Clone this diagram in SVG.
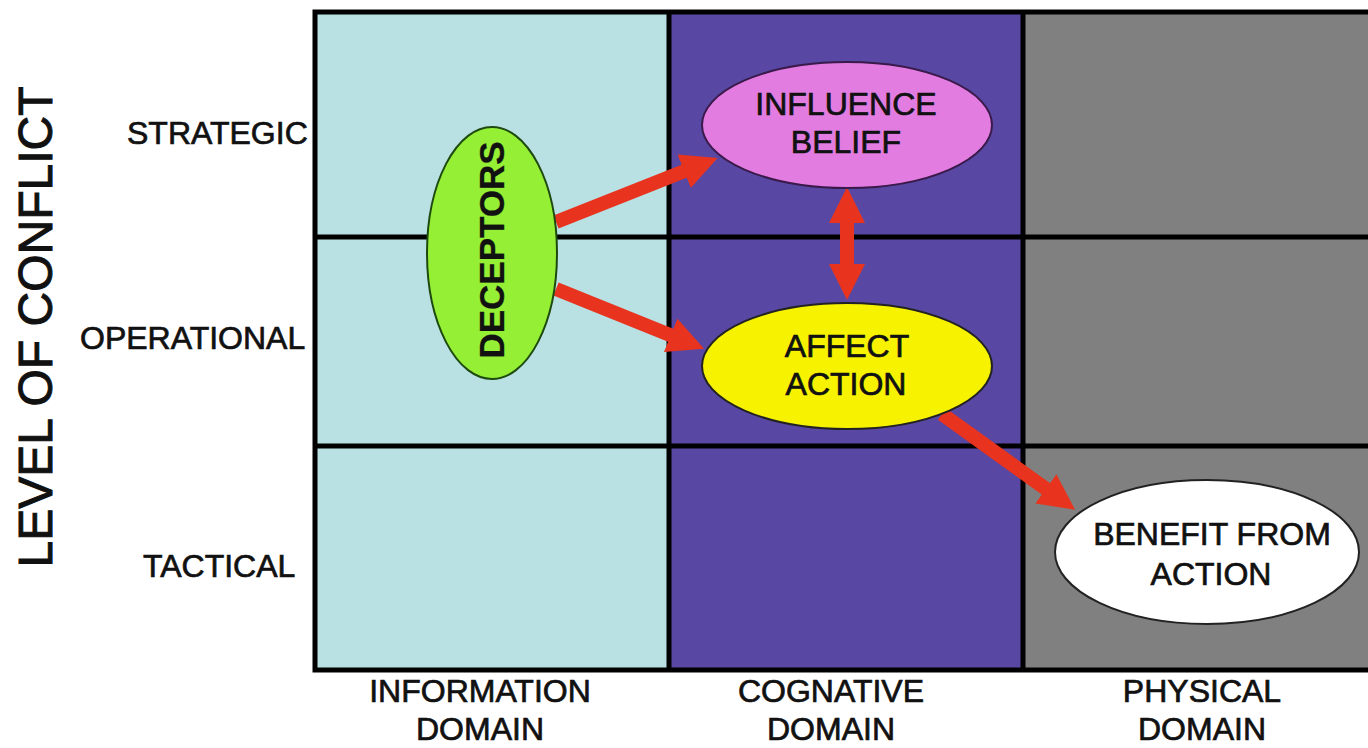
<svg xmlns="http://www.w3.org/2000/svg" width="1368" height="748" viewBox="0 0 1368 748">
<style>
.t{font-family:"Liberation Sans",Arial,sans-serif;font-size:32px;fill:#111;stroke:#111;stroke-width:0.7;text-anchor:middle}
.s{font-family:"Liberation Sans",Arial,sans-serif;font-size:32px;fill:#111;stroke:#111;stroke-width:0.7}
.grid{stroke:#000;stroke-width:5;fill:none}
.arrow{stroke:#e8341f;stroke-width:14;fill:none}
</style>
<defs>
<marker id="ah" markerUnits="userSpaceOnUse" viewBox="0 0 36 36" markerWidth="36" markerHeight="36" refX="2" refY="18" orient="auto-start-reverse">
<path d="M0,0 L36,18 L0,36 z" fill="#e8341f"/>
</marker>
</defs>
<rect x="0" y="0" width="1368" height="748" fill="#fff"/>
<g id="grid">
<rect x="315" y="12" width="354" height="658" fill="#b9e0e3"/>
<rect x="669" y="12" width="354" height="658" fill="#5847a3"/>
<rect x="1023" y="12" width="345" height="658" fill="#808080"/>
<path class="grid" d="M1370,12 H315 V670 H1370 M669,12 V670 M1023,12 V670 M315,237 H1370 M315,446 H1370"/>
</g>
<g id="axis-labels">
<text class="t" style="font-size:48px;stroke-width:1" transform="translate(52,327) rotate(-90)">LEVEL OF CONFLICT</text>
<text class="s" x="127" y="144">STRATEGIC</text>
<text class="s" x="80" y="349">OPERATIONAL</text>
<text class="s" x="143" y="577">TACTICAL</text>
<text class="t" x="480" y="702">INFORMATION</text>
<text class="t" x="480" y="740">DOMAIN</text>
<text class="t" x="831" y="702">COGNATIVE</text>
<text class="t" x="831" y="740">DOMAIN</text>
<text class="t" x="1202" y="702">PHYSICAL</text>
<text class="t" x="1202" y="740">DOMAIN</text>
</g>
<g id="connectors">
<line class="arrow" x1="556" y1="222" x2="686" y2="170.5" marker-end="url(#ah)"/>
<line class="arrow" x1="556" y1="289" x2="672.5" y2="336" marker-end="url(#ah)"/>
<line class="arrow" x1="847" y1="221" x2="847" y2="266" marker-start="url(#ah)" marker-end="url(#ah)"/>
<line class="arrow" x1="942" y1="414" x2="1047.5" y2="490" marker-end="url(#ah)"/>
</g>
<g id="deceptors">
<ellipse cx="492" cy="253" rx="65" ry="126" fill="#95ef35" stroke="#1e4a10" stroke-width="2"/>
<text class="t" style="font-size:35px;font-weight:bold;stroke-width:0.3" transform="translate(504,250) rotate(-90)">DECEPTORS</text>
</g>
<g id="influence-belief">
<ellipse cx="847" cy="125" rx="145" ry="63" fill="#e27ce0" stroke="#3a1a4a" stroke-width="2"/>
<text class="t" x="846" y="115">INFLUENCE</text>
<text class="t" x="846" y="153">BELIEF</text>
</g>
<g id="affect-action">
<ellipse cx="847" cy="366" rx="145" ry="63" fill="#f6f200" stroke="#222" stroke-width="2"/>
<text class="t" x="847" y="357">AFFECT</text>
<text class="t" x="846" y="395">ACTION</text>
</g>
<g id="benefit-from-action">
<ellipse cx="1207" cy="552" rx="152" ry="72" fill="#fff" stroke="#222" stroke-width="2"/>
<text class="t" x="1212" y="545">BENEFIT FROM</text>
<text class="t" x="1211" y="585">ACTION</text>
</g>
</svg>
